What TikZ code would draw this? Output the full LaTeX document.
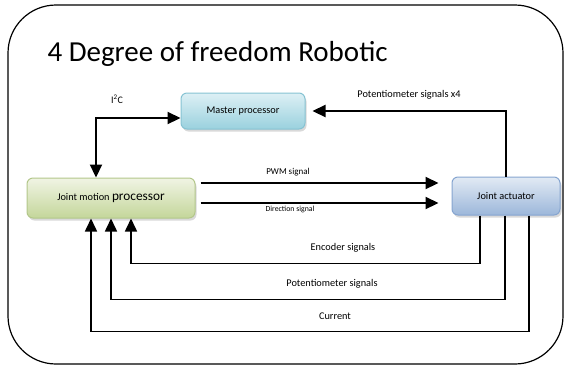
\documentclass[tikz,border=0pt]{standalone}
\usepackage{fontspec}
\setmainfont{Carlito}
\usetikzlibrary{calc,positioning,arrows.meta,shadows}
\definecolor{mastertop}{HTML}{DDF0F5}
\definecolor{masterbot}{HTML}{9AD1DE}
\definecolor{masterline}{HTML}{86C3D3}
\definecolor{jointtop}{HTML}{F0F4E4}
\definecolor{jointbot}{HTML}{C4D69A}
\definecolor{jointline}{HTML}{B3C78A}
\definecolor{acttop}{HTML}{E2EAF4}
\definecolor{actbot}{HTML}{9CB7DA}
\definecolor{actline}{HTML}{86A5D0}

\begin{document}
\begin{tikzpicture}[x=1pt,y=-1pt,font=\fontsize{10.3}{12}\selectfont,
  blk/.style={rounded corners=6pt,inner sep=0pt,align=center,line width=1pt,
    drop shadow={shadow xshift=1.5pt,shadow yshift=-2.5pt,opacity=0.3}},
  sig/.style={line width=2.2pt,-{Triangle[length=13pt,width=12pt]}},
  loopsig/.style={line width=1.6pt,-{Triangle[length=13pt,width=12pt]}}]
\useasboundingbox (0,0) rectangle (566,368);
% frame and title
\draw[line width=1.2pt,rounded corners=48pt] (8,5) rectangle (563,364);
\node[anchor=base west,font=\fontsize{29}{35}\selectfont] (title) at (44,61) {4 Degree of freedom Robotic};
% blocks
\node[blk,draw=masterline,top color=mastertop,bottom color=masterbot,minimum width=124pt,minimum height=36pt]
  (mp) at (243,111) {Master processor};
\node[blk,draw=jointline,top color=jointtop,bottom color=jointbot,minimum width=168pt,minimum height=40pt]
  (jmp) at (111,198) {Joint motion {\fontsize{13.3}{15}\selectfont processor}};
\node[blk,draw=actline,top color=acttop,bottom color=actbot,minimum width=108pt,minimum height=38pt]
  (ja) at (506,196) {Joint actuator};
% connectors
\draw[line width=2.2pt,{Triangle[length=13pt,width=12pt]}-{Triangle[length=13pt,width=12pt]}]
  ([xshift=-15pt]jmp.north) |- ([yshift=-7pt]mp.west);
\draw[sig] (ja.north) |- ([xshift=7pt]mp.east);
\draw[sig,shorten >=13pt] ([xshift=5pt,yshift=15pt]jmp.east) coordinate (pwm) -- (pwm -| ja.west);
\draw[sig,shorten >=13pt] ([xshift=5pt,yshift=-5pt]jmp.east) coordinate (dir) -- (dir -| ja.west);
\draw[loopsig] ([xshift=-26pt]ja.south) -- ++(0,48) -| ([xshift=20pt]jmp.south);
\draw[loopsig] ([xshift=-1pt]ja.south) -- ++(0,84) -| (jmp.south);
\draw[loopsig] ([xshift=23pt]ja.south) -- ++(0,116) -| ([xshift=-20pt]jmp.south);
% labels
\node[font=\fontsize{10}{12}\selectfont] (i2c) at (117,99) {I\textsuperscript{2}C};
\node (potx4) at (409,95) {Potentiometer signals x4};
\node[font=\fontsize{9}{11}\selectfont] (pwmlab) at (288,172) {PWM signal};
\node[font=\fontsize{7.8}{9}\selectfont] (dirlab) at (290,209) {Direction signal};
\node (enclab) at (343,248) {Encoder signals};
\node (potlab) at (332,284) {Potentiometer signals};
\node (curlab) at (335,316) {Current};
\end{tikzpicture}
\end{document}
